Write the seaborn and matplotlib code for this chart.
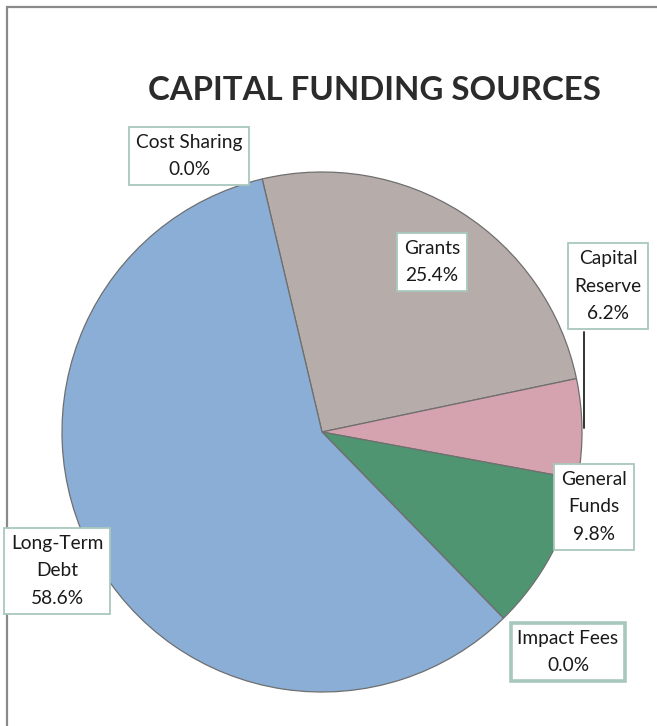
import matplotlib
matplotlib.use("Agg")
import matplotlib.pyplot as plt
from matplotlib.patches import Rectangle
import seaborn as sns

# Funding sources, in the order they run clockwise from the top
sources = ["Cost Sharing", "Grants", "Capital Reserve", "General Funds",
           "Impact Fees", "Long-Term Debt"]
label_text = ["Cost Sharing", "Grants", "Capital\nReserve", "General\nFunds",
              "Impact Fees", "Long-Term\nDebt"]
shares = [0.0, 25.4, 6.2, 9.8, 0.0, 58.6]
colors = ["#8aaed6", "#b6acaa", "#d5a3b0", "#4f9572", "#4f9572", "#8aaed6"]

sns.set_theme(style="white")
plt.rcParams["font.family"] = ["Lato", "DejaVu Sans"]

W, H = 657, 726
fig = plt.figure(figsize=(W / 100, H / 100), dpi=100)
ax = fig.add_axes([0, 0, 1, 1])

# outer frame of the chart area
ax.add_patch(Rectangle((7, -10), 700, H - 7 + 10, fill=False,
                       edgecolor="#8a8a8a", linewidth=1.6))

cx, cy, r = 322, H - 432, 260
wedges, _ = ax.pie(shares, colors=colors, startangle=103.3, counterclock=False,
                   center=(cx, cy), radius=r, frame=True,
                   wedgeprops=dict(edgecolor="#6f6f6f", linewidth=0.9))
ax.set_xlim(0, W)
ax.set_ylim(0, H)
ax.set_aspect("equal")
ax.axis("off")

ax.text(374, H - 91, "CAPITAL FUNDING SOURCES", ha="center", va="center",
        fontsize=23.8, fontweight="bold", color="#2b2b2b")

# label anchors (box centres) for each source
label_pos = [(189, 156), (432, 262), (608, 286), (594, 507), (568, 652), (57, 571)]
box_lw = [1.3, 1.3, 1.3, 1.3, 2.6, 1.3]

# leader line from the Capital Reserve box down to its slice
ax.plot([584, 584], [H - 332, H - 428], color="#222222", linewidth=1.3)

for txt, val, (x, y), lw in zip(label_text, shares, label_pos, box_lw):
    ax.text(x, H - y, f"{txt}\n{val:.1f}%", ha="center", va="center",
            fontsize=13.8, color="#1a1a1a", linespacing=1.75,
            bbox=dict(boxstyle="square,pad=0.36", facecolor="white",
                      edgecolor="#a9c8bd", linewidth=lw))

fig.savefig("out.png", dpi=100)
